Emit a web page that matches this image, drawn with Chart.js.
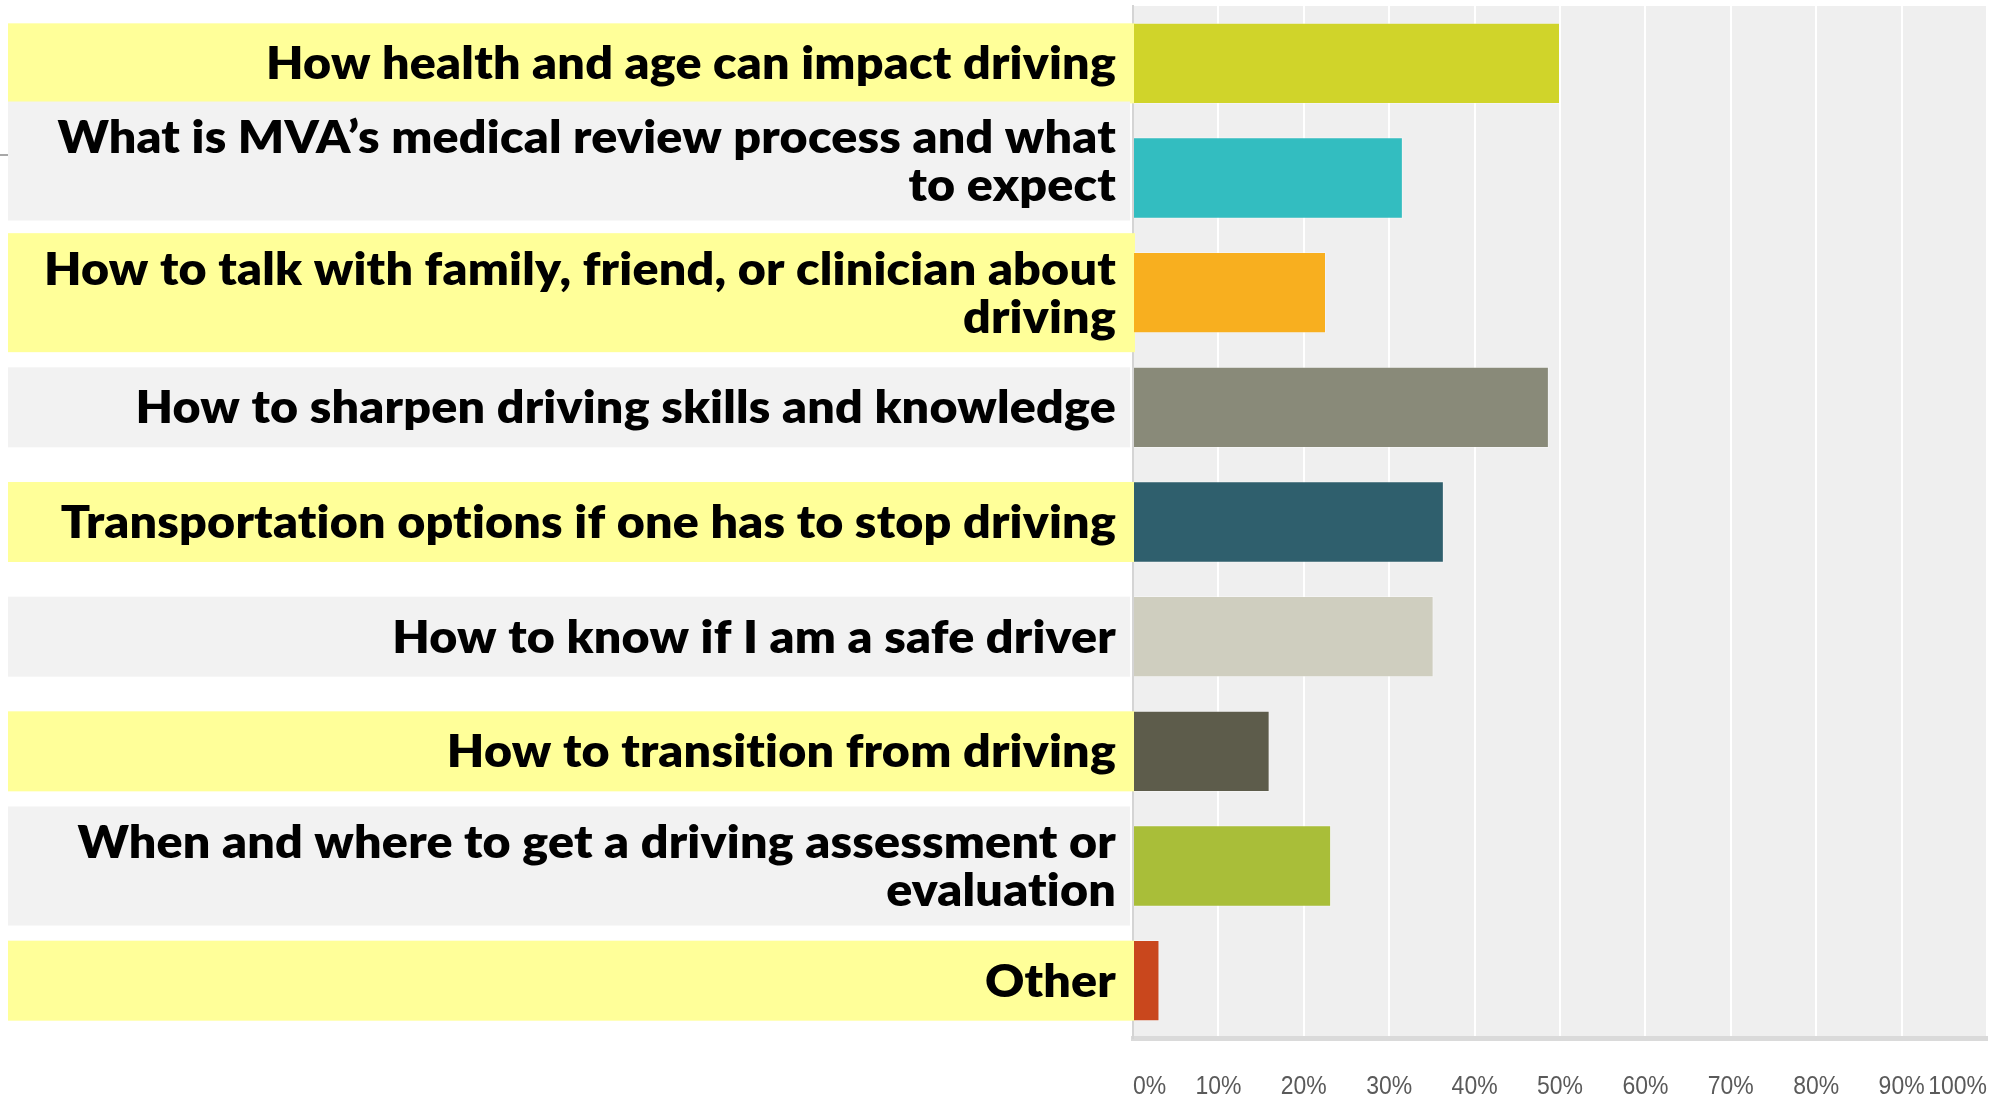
<!DOCTYPE html>
<html>
<head>
<meta charset="utf-8">
<script src="https://cdn.jsdelivr.net/npm/chart.js@4.4.0/dist/chart.umd.min.js"></script>
<style>
html,body{margin:0;padding:0;background:#fff;}
#wrap{width:1989px;height:1096px;position:relative;}
</style>
</head>
<body>
<div id="wrap"><canvas id="c"></canvas></div>
<script>
// topics respondents want to learn about, % of respondents
var categories = [
    ['How health and age can impact driving'],
    ['What is MVA\u2019s medical review process and what', 'to expect'],
    ['How to talk with family, friend, or clinician about', 'driving'],
    ['How to sharpen driving skills and knowledge'],
    ['Transportation options if one has to stop driving'],
    ['How to know if I am a safe driver'],
    ['How to transition from driving'],
    ['When and where to get a driving assessment or', 'evaluation'],
    ['Other']
];
var percents = [50.0, 31.6, 22.6, 48.7, 36.4, 35.2, 16.0, 23.2, 3.1];
var barColors = ['#d0d42a', '#33bdc0', '#f8af1f', '#898a79', '#2f5f6d', '#cfcebf', '#5d5c4b', '#a9be39', '#c9471d'];
var tickMin = 0, tickMax = 100, tickStep = 10;

var labelFont = '800 45px Lato, "Open Sans", sans-serif';
var tickFont = '25px "Liberation Sans", Arial, sans-serif';

// yellow / grey boxes with the category text, drawn left of the plot
var labelBoxes = {
    id: 'labelBoxes',
    beforeDraw: function(chart){
        var a = chart.chartArea, ctx = chart.ctx;
        ctx.save();
        ctx.fillStyle = '#efefef';
        ctx.fillRect(a.left, a.top, a.right - a.left, a.bottom - a.top);
        ctx.strokeStyle = '#a8a8a8';
        ctx.lineWidth = 2;
        ctx.beginPath(); ctx.moveTo(0, 155); ctx.lineTo(8, 155); ctx.stroke();
        ctx.restore();
    },
    beforeDatasetsDraw: function(chart){
        var ctx = chart.ctx, ys = chart.scales.y, a = chart.chartArea;
        ctx.save();
        ctx.font = labelFont;
        // tiny spacing keeps Lato from joining "ti"
        if('letterSpacing' in ctx) ctx.letterSpacing = '0.2px';
        var sx = 850 / ctx.measureText(categories[0][0]).width;
        for(var i=0; i<categories.length; i++){
            var lines = categories[i];
            var mid = ys.getPixelForValue(i);
            if(i === 1) mid -= 17;
            var h = lines.length === 1 ? 80 : 119;
            ctx.fillStyle = i % 2 === 0 ? '#ffff99' : '#f2f2f2';
            ctx.fillRect(8, mid - h/2, a.left + (i % 2 === 0 ? 2 : -3) - 8, h);
            ctx.fillStyle = '#000';
            ctx.textAlign = 'right';
            ctx.textBaseline = 'alphabetic';
            for(var j=0; j<lines.length; j++){
                var capMid = mid + (j - (lines.length - 1)/2) * 48;
                ctx.save();
                ctx.translate(a.left - 17, capMid + 16);
                ctx.scale(sx, 1);
                ctx.fillText(lines[j], 0, 0);
                ctx.restore();
            }
        }
        ctx.restore();
    },
    // narrow percent labels under the x axis
    afterDraw: function(chart){
        var ctx = chart.ctx, xs = chart.scales.x;
        ctx.save();
        ctx.font = tickFont;
        ctx.fillStyle = '#5a5a5a';
        ctx.textBaseline = 'alphabetic';
        var sx = 46 / ctx.measureText('10%').width;
        var n = xs.ticks.length;
        xs.ticks.forEach(function(t, k){
            var txt = t.value + '%';
            var px = xs.getPixelForValue(t.value);
            ctx.textAlign = k === 0 ? 'left' : (k === n - 1 ? 'right' : 'center');
            ctx.save();
            ctx.translate(px, 1094);
            ctx.scale(sx, 1);
            ctx.fillText(txt, 0, 0);
            ctx.restore();
        });
        ctx.restore();
    }
};

var ctx = document.getElementById('c').getContext('2d');
var myChart = new Chart(ctx, {
    type: 'bar',
    data: {
        labels: categories,
        datasets: [{
            data: percents,
            backgroundColor: barColors,
            borderColor: 'rgba(255,255,255,0.35)',
            borderWidth: 1,
            categoryPercentage: 0.71,
            barPercentage: 1
        }]
    },
    options: {
        indexAxis: 'y',
        responsive: true,
        maintainAspectRatio: false,
        animation: false,
        layout: { padding: { left: 1133, top: 6, right: 2, bottom: 0 } },
        plugins: { legend: { display: false }, tooltip: { enabled: false } },
        scales: {
            x: {
                min: tickMin, max: tickMax,
                ticks: { stepSize: tickStep, autoSkip: false, maxRotation: 0, display: false },
                grid: {
                    color: function(c){ return c.index === 0 ? 'rgba(0,0,0,0)' : '#ffffff'; },
                    lineWidth: 2, drawTicks: false
                },
                border: { color: '#dadada', width: 5 },
                afterFit: function(s){ s.height = 58; s.paddingLeft = 0; s.paddingRight = 0; }
            },
            y: {
                ticks: { display: false },
                grid: { display: false },
                border: { color: '#d4d4d4', width: 2 },
                afterFit: function(s){ s.width = 0; s.paddingTop = 0; s.paddingBottom = 0; }
            }
        }
    },
    plugins: [labelBoxes]
});
</script>
</body>
</html>
